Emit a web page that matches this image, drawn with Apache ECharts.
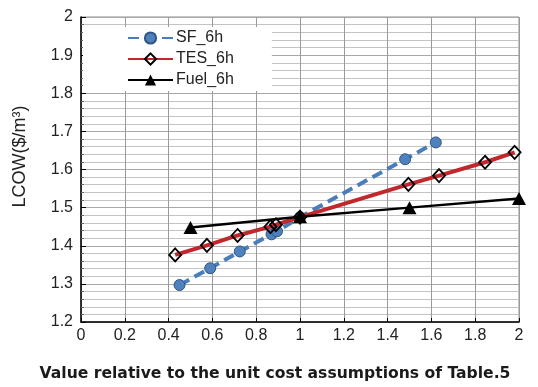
<!DOCTYPE html>
<html>
<head>
<meta charset="utf-8">
<script src="https://cdn.jsdelivr.net/npm/echarts@6/dist/echarts.min.js"></script>
<style>
  html, body { margin: 0; padding: 0; background: #fff; }
  #chart { width: 538px; height: 387px; }
</style>
</head>
<body>
<div id="chart"></div>
<script>
// LCOW sensitivity to unit cost multipliers
const seriesNames = ['SF_6h', 'TES_6h', 'Fuel_6h'];

const sfX = [0.45, 0.59, 0.725, 0.87, 0.895, 1.0, 1.48, 1.62];
const sfY = [1.297, 1.341, 1.385, 1.430, 1.438, 1.475, 1.627, 1.671];

const tesX = [0.43, 0.575, 0.715, 0.865, 0.89, 1.0, 1.495, 1.635, 1.845, 1.98];
const tesY = [1.376, 1.401, 1.427, 1.450, 1.455, 1.475, 1.561, 1.584, 1.619, 1.645];

const fuelX = [0.5, 1.0, 1.5, 2.0];
const fuelY = [1.448, 1.476, 1.500, 1.524];

const xTicks = { min: 0, max: 2, interval: 0.2 };
const yTicks = { min: 1.2, max: 2, interval: 0.1 };

const pairs = (xs, ys) => xs.map((x, i) => [x, ys[i]]);

const labelFont = 'Liberation Sans';

const chart = echarts.init(document.getElementById('chart'), null, { renderer: 'canvas' });
chart.setOption({
  animation: false,
  backgroundColor: '#fff',
  grid: {
    left: 81, right: 19, top: 17, bottom: 63,
    show: true, borderColor: '#8c8c8c', borderWidth: 1, backgroundColor: 'transparent'
  },
  legend: {
    data: seriesNames,
    orient: 'vertical',
    left: 83, top: 27,
    backgroundColor: '#fff',
    padding: [3, 38, 3, 44],
    itemWidth: 45, itemHeight: 14, itemGap: 5,
    textStyle: { fontFamily: labelFont, fontSize: 16, color: '#222', padding: [0, 0, 0, -2] }
  },
  xAxis: {
    type: 'value',
    min: xTicks.min, max: xTicks.max, interval: xTicks.interval,
    name: 'Value relative to the unit cost assumptions of Table.5',
    nameLocation: 'middle', nameGap: 44,
    nameTextStyle: { fontFamily: 'DejaVu Sans', fontWeight: 'bold', fontSize: 15.6, color: '#1a1a1a', padding: [0, 50, 0, 0] },
    axisLine: { show: true, onZero: false, lineStyle: { color: '#000', width: 1.5 } },
    axisTick: { show: true, inside: true, length: 4, lineStyle: { color: '#000' } },
    axisLabel: { fontFamily: labelFont, fontSize: 16, color: '#222', margin: 6 },
    splitLine: { show: true, lineStyle: { color: '#9a9a9a', width: 1 } }
  },
  yAxis: {
    type: 'value',
    min: yTicks.min, max: yTicks.max, interval: yTicks.interval,
    name: 'LCOW($/m³)',
    nameLocation: 'middle', nameGap: 52,
    nameTextStyle: { fontFamily: labelFont, fontSize: 18, color: '#222', padding: [0, 0, 0, 26] },
    axisLine: { show: true, onZero: false, lineStyle: { color: '#000', width: 1.5 } },
    axisTick: { show: true, inside: true, length: 5, lineStyle: { color: '#000' } },
    minorTick: { show: true, splitNumber: 5, length: 3, lineStyle: { color: '#666' } },
    axisLabel: { fontFamily: labelFont, fontSize: 16, color: '#222', margin: 8 },
    splitLine: { show: true, lineStyle: { color: '#a8a8a8', width: 1 } },
    minorSplitLine: { show: true, lineStyle: { color: '#c4c4c4', width: 1 } }
  },
  series: [
    {
      name: seriesNames[0],
      type: 'line',
      data: pairs(sfX, sfY),
      symbol: 'circle', symbolSize: 11,
      color: '#4f81bd',
      lineStyle: { color: '#4a7ebb', width: 4, type: [11, 6] },
      itemStyle: { color: '#4f81bd', borderColor: '#2f5585', borderWidth: 1 },
      z: 2
    },
    {
      name: seriesNames[1],
      type: 'line',
      data: pairs(tesX, tesY),
      symbol: 'diamond', symbolSize: [12, 13],
      color: '#c0282d',
      lineStyle: { color: '#c0282d', width: 4 },
      itemStyle: { color: 'rgba(255,255,255,0)', borderColor: '#000', borderWidth: 1.8 },
      z: 3
    },
    {
      name: seriesNames[2],
      type: 'line',
      data: pairs(fuelX, fuelY),
      symbol: 'triangle', symbolSize: [14, 13],
      color: '#000',
      lineStyle: { color: '#000', width: 2.5 },
      itemStyle: { color: '#000' },
      z: 4
    }
  ]
});
</script>
</body>
</html>
